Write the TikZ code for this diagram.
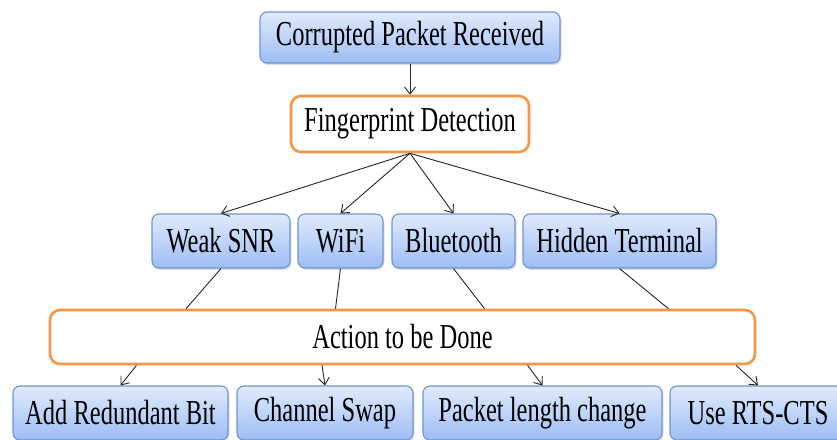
\documentclass[tikz,border=0pt]{standalone}
\usepackage{fontspec}
\setmainfont{Liberation Serif}[FakeStretch=0.70]
\usetikzlibrary{arrows.meta,shadows}
\definecolor{boxtop}{HTML}{E0EBFC}
\definecolor{boxbot}{HTML}{9DBDF3}
\definecolor{boxline}{HTML}{6E95D2}
\definecolor{orangeline}{HTML}{F79646}
\tikzset{
  bluebox/.style={draw=boxline, line width=1.1pt, rounded corners=7pt,
    top color=boxtop, bottom color=boxbot, inner sep=0pt,
    minimum height=54pt, font=\fontsize{35}{38}\selectfont,
    drop shadow={opacity=0.25, shadow xshift=1.5pt, shadow yshift=-2pt}},
  orangebox/.style={draw=orangeline, line width=2.6pt, rounded corners=10pt,
    fill=white, inner sep=0pt, minimum height=54pt,
    font=\fontsize{35}{38}\selectfont},
  conn/.style={draw=black!85, line width=0.9pt},
  arr/.style={conn, -{Straight Barb[length=7pt,width=11pt,line width=0.9pt]}}
}
\begin{document}
\begin{tikzpicture}[x=1pt,y=1pt]
\useasboundingbox (0,0) rectangle (837,-439);
\fill[white] (0,0) rectangle (837,-439);
% nodes
\node[bluebox, minimum width=300pt, minimum height=51pt] (cpr) at (410,-37.5) {Corrupted Packet Received};
\node[orangebox, minimum width=238pt, minimum height=56pt] (fp) at (410,-124) {Fingerprint Detection};
\node[bluebox, minimum width=138pt] (weak) at (221,-241) {Weak SNR};
\node[bluebox, minimum width=85pt] (wifi) at (340.5,-241) {WiFi};
\node[bluebox, minimum width=123pt] (bt) at (453.5,-241) {Bluetooth};
\node[bluebox, minimum width=193pt] (ht) at (619.5,-241) {Hidden Terminal};
\node[orangebox, minimum width=705pt] (act) at (402.5,-337) {Action to be Done};
\node[bluebox, minimum width=215pt] (add) at (120.5,-413) {Add Redundant Bit};
\node[bluebox, minimum width=176pt] (cs) at (325,-413) {Channel Swap};
\node[bluebox, minimum width=239pt] (plc) at (542.5,-413) {Packet length change};
\node[bluebox, minimum width=176pt] (rts) at (758,-413) {Use RTS-CTS};
% connectors
\draw[arr] (cpr.south) -- (fp.north);
\draw[arr] (fp.south) -- (weak.north);
\draw[arr] (fp.south) -- (wifi.north);
\draw[arr] (fp.south) -- (bt.north);
\draw[arr] (fp.south) -- (ht.north);
\draw[conn] (weak.south) -- ([xshift=-35pt]weak.south |- act.north);
\draw[conn] (wifi.south) -- ([xshift=-5pt]wifi.south |- act.north);
\draw[conn] (bt.south) -- ([xshift=31pt]bt.south |- act.north);
\draw[conn] (ht.south) -- ([xshift=49pt]ht.south |- act.north);
\draw[arr] ([xshift=16pt]add.north |- act.south) -- (add.north);
\draw[arr] ([xshift=-3pt]cs.north |- act.south) -- (cs.north);
\draw[arr] ([xshift=-15pt]plc.north |- act.south) -- (plc.north);
\draw[arr] ([xshift=-22pt]rts.north |- act.south) -- (rts.north);
\end{tikzpicture}
\end{document}
